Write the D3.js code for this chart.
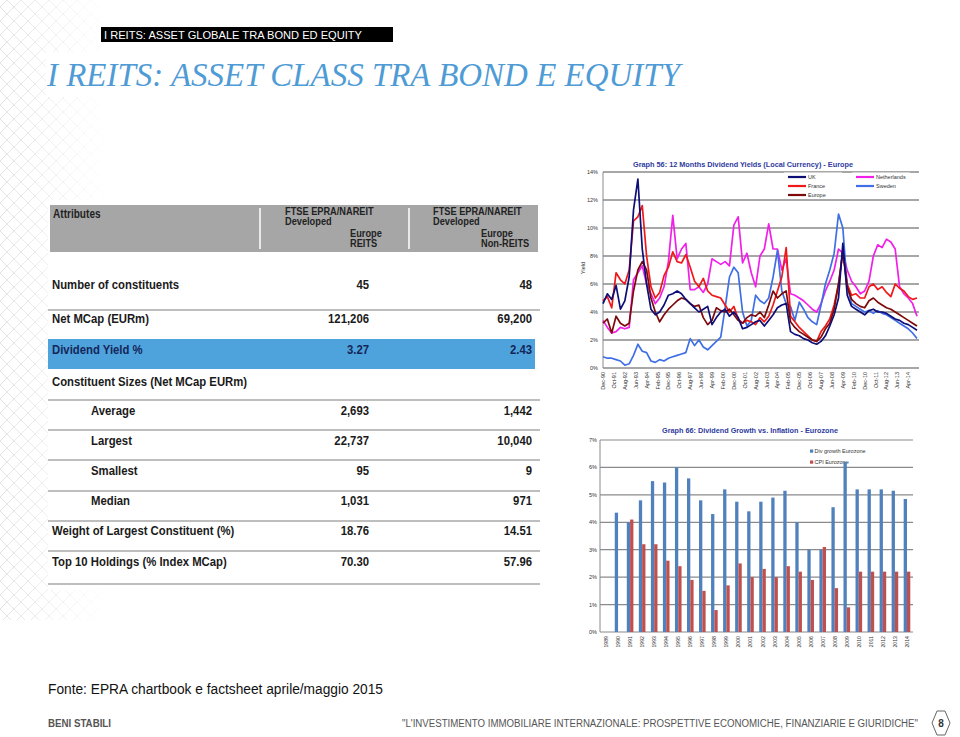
<!DOCTYPE html>
<html><head><meta charset="utf-8">
<script src="https://cdn.jsdelivr.net/npm/d3@7"></script>
<style>body{margin:0;background:#fff}svg{display:block}</style>
</head><body>
<svg id="c" width="960" height="737"></svg>
<script>
// ---------------- DATA ----------------
const headerTag = "I REITS: ASSET GLOBALE TRA BOND ED EQUITY";
const slideTitle = "I REITS: ASSET CLASS TRA BOND E EQUITY";

const tableHeaders = ["Attributes", ["FTSE EPRA/NAREIT","Developed","Europe","REITS"], ["FTSE EPRA/NAREIT","Developed","Europe","Non-REITS"]];
const rowLabels = ["Number of constituents","Net MCap (EURm)","Dividend Yield %","Constituent Sizes (Net MCap EURm)","Average","Largest","Smallest","Median","Weight of Largest Constituent (%)","Top 10 Holdings (% Index MCap)"];
const reitsValues = ["45","121,206","3.27","","2,693","22,737","95","1,031","18.76","70.30"];
const nonReitsValues = ["48","69,200","2.43","","1,442","10,040","9","971","14.51","57.96"];

const yieldTitle = "Graph 56: 12 Months Dividend Yields (Local Currency) - Europe";
const yieldTicks = [0,2,4,6,8,10,12,14];
const yieldXLabels = ["Dec-90","Oct-91","Aug-92","Jun-93","Apr-94","Feb-95","Dec-95","Oct-96","Aug-97","Jun-98","Apr-99","Feb-00","Dec-00","Oct-01","Aug-02","Jun-03","Apr-04","Feb-05","Dec-05","Oct-06","Aug-07","Jun-08","Apr-09","Feb-10","Dec-10","Oct-11","Aug-12","Jun-13","Apr-14"];
// one reading every 4 months from Dec-90 to Dec-14
const ukYield = [4.6,5.3,4.9,5.9,4.2,4.8,6.5,11.3,13.5,8.5,6.0,4.2,3.8,4.0,4.5,5.2,5.3,5.5,5.3,4.9,4.6,4.3,4.0,4.2,4.4,3.1,3.6,4.0,4.2,3.7,4.0,3.6,2.8,2.9,3.1,3.3,3.4,3.0,3.4,3.8,4.3,4.5,4.6,2.6,2.4,2.3,2.1,2.0,1.8,1.7,1.9,2.3,3.0,3.8,5.0,8.9,5.2,4.4,4.2,4.0,3.8,4.1,4.2,4.0,4.0,3.9,3.7,3.5,3.4,3.2,3.1,2.9,2.7];
const franceYield = [4.8,5.1,4.3,6.8,6.3,6.0,7.0,10.5,10.8,11.6,8.0,5.8,5.0,5.4,6.6,7.2,8.3,7.6,7.5,8.1,7.2,6.2,5.8,6.4,5.5,5.2,5.1,5.0,4.5,4.0,4.4,3.5,3.2,3.4,3.3,3.1,3.6,3.3,3.7,4.5,5.5,6.5,8.6,3.7,3.3,2.9,2.6,2.3,2.0,1.9,2.6,3.0,3.5,4.5,6.0,8.3,6.0,5.2,5.3,5.0,5.0,5.8,6.0,5.6,5.8,5.4,5.1,6.0,5.7,5.5,5.1,4.9,5.0];
const europeYield = [3.2,3.5,2.5,3.7,3.2,3.0,3.2,5.5,7.0,7.6,7.0,5.0,4.0,3.3,3.8,4.2,4.5,4.8,5.0,4.9,4.6,4.4,4.5,3.6,3.1,3.4,4.3,4.1,4.0,4.2,3.8,3.4,3.2,3.6,3.8,3.7,4.0,3.6,4.5,5.5,5.0,5.3,5.5,3.3,2.9,2.6,2.4,2.2,2.0,1.9,2.2,2.8,3.2,4.2,6.0,8.3,5.8,4.9,4.6,4.4,4.3,4.8,5.0,4.7,4.5,4.3,4.2,4.0,3.8,3.6,3.4,3.2,3.0];
const netherlandsYield = [3.4,2.9,2.5,2.6,2.9,2.8,2.9,6.3,6.8,7.3,6.0,5.3,4.6,5.0,5.8,7.6,10.9,7.8,8.5,8.9,5.6,5.6,5.8,5.4,6.0,7.8,7.6,7.4,7.6,7.3,10.2,10.8,7.5,8.2,6.8,5.8,8.0,8.5,10.3,8.5,8.5,7.0,7.8,5.3,5.2,5.0,4.8,4.5,4.2,4.0,4.6,5.5,6.2,7.0,8.5,8.2,7.0,6.2,5.8,5.3,5.5,6.2,8.0,8.8,8.6,9.2,9.0,8.5,5.8,5.3,5.0,4.6,3.7];
const swedenYield = [0.8,0.7,0.7,0.6,0.5,0.2,0.3,0.9,1.7,1.2,1.1,0.5,0.4,0.6,0.5,0.7,0.8,0.9,1.0,1.1,2.1,1.6,2.0,1.5,1.3,1.6,1.9,2.2,4.3,6.5,7.2,6.8,4.0,3.0,3.4,5.2,4.8,4.6,5.0,6.5,8.4,5.5,4.6,4.4,3.4,4.7,4.2,3.6,3.3,3.1,4.5,6.0,7.0,8.2,11.0,10.0,5.8,4.6,4.4,4.2,4.0,4.1,3.9,4.1,3.9,3.8,3.6,3.4,3.2,3.0,2.8,2.5,2.1];
const yieldSeriesNames = ["UK","France","Europe","Netherlands","Sweden"];

const barTitle = "Graph 66: Dividend Growth vs. Inflation - Eurozone";
const barYears = ["1989","1990","1991","1992","1993","1994","1995","1996","1997","1998","1999","2000","2001","2002","2003","2004","2005","2006","2007","2008","2009","2010","2011","2012","2013","2014"];
const divGrowth = [null,4.35,4.0,4.8,5.5,5.45,6.0,5.6,4.8,4.3,5.2,4.75,4.4,4.75,4.9,5.15,4.0,3.0,3.0,4.55,6.2,5.2,5.2,5.2,5.15,4.85];
const cpiEurozone = [null,null,4.1,3.2,3.2,2.6,2.4,1.9,1.5,0.8,1.7,2.5,2.0,2.3,2.0,2.4,2.2,1.9,3.1,1.6,0.9,2.2,2.2,2.2,2.2,2.2];
const barTicks = [0,1,2,3,4,5,6,7];
const barSeriesNames = ["Div growth Eurozone","CPI Eurozone"];

const sourceNote = "Fonte: EPRA chartbook e factsheet aprile/maggio 2015";
const footerLeft = "BENI STABILI";
const footerRight = "\"L'INVESTIMENTO IMMOBILIARE INTERNAZIONALE: PROSPETTIVE ECONOMICHE, FINANZIARIE E GIURIDICHE\"";
const pageNumber = "8";

// ---------------- DRAW ----------------
const svg = d3.select("#c");
const SANS = "'Liberation Sans', Arial, sans-serif";
const SX = 0.84; // horizontal condensing of table text (Arial Narrow look)

// background lattice (left edge)
const defs = svg.append("defs");
const pat = defs.append("pattern").attr("id","lat").attr("width",14).attr("height",14).attr("patternUnits","userSpaceOnUse");
pat.append("path").attr("d","M0,7 L7,0 L14,7 L7,14 Z").attr("fill","none").attr("stroke","#e3e3e3").attr("stroke-width",1);
const grad = defs.append("linearGradient").attr("id","fade").attr("x1",0).attr("x2",1).attr("y1",0).attr("y2",0);
grad.append("stop").attr("offset",0).attr("stop-color","#fff").attr("stop-opacity",1);
grad.append("stop").attr("offset",1).attr("stop-color","#fff").attr("stop-opacity",0);
defs.append("mask").attr("id","m").append("rect").attr("width",110).attr("height",620).attr("fill","url(#fade)");
svg.append("rect").attr("width",110).attr("height",620).attr("fill","url(#lat)").attr("mask","url(#m)");
svg.append("rect").attr("x",46).attr("y",52).attr("width",640).attr("height",45).attr("fill","#fff");
svg.append("rect").attr("x",48).attr("y",200).attr("width",495).attr("height",390).attr("fill","#fff");

// header tag
svg.append("rect").attr("x",101).attr("y",27).attr("width",292).attr("height",15).attr("fill","#000");
svg.append("text").attr("x",104).attr("y",38.5).attr("font-family",SANS).attr("font-size",11).attr("fill","#fff")
  .attr("textLength",258).attr("lengthAdjust","spacingAndGlyphs").text(headerTag);

// title
svg.append("text").attr("x",47).attr("y",86).attr("font-family","'Liberation Serif','Times New Roman',serif")
  .attr("font-style","italic").attr("font-size",34).attr("fill","#4f9bd5")
  .attr("textLength",633).attr("lengthAdjust","spacingAndGlyphs").text(slideTitle);

// ---- table ----
const tb = svg.append("g").attr("font-family",SANS).attr("font-weight","bold");
function tText(x, y, t, size, fill, anchor){
  tb.append("text").attr("transform",`translate(${x},${y}) scale(${SX},1)`)
    .attr("text-anchor",anchor||"start").attr("font-size",size).attr("fill",fill).text(t);
}
tb.append("rect").attr("x",50).attr("y",205).attr("width",488).attr("height",47).attr("fill","#a6a6a6");
[260,409].forEach(x=>tb.append("line").attr("x1",x).attr("x2",x).attr("y1",208).attr("y2",249).attr("stroke","#fff").attr("stroke-width",1.5));
tText(53,218,tableHeaders[0],12,"#222");
const hdrCols = [{x:285, x2:350},{x:433, x2:481}];
[1,2].forEach((c,ci)=>{
  const h = tableHeaders[c], p = hdrCols[ci];
  const ys=[214.5,224.5,237,247];
  h.forEach((t,i)=>tText(i<2?p.x:p.x2, ys[i], t, 11, "#222"));
});
tb.append("rect").attr("x",48).attr("y",339).attr("width",487).attr("height",30).attr("fill","#4ea3dc");
const rowY = [284,318,349,381,410,440,470,500,530,561];
const indent = [false,false,false,false,true,true,true,true,false,false];
[310,400,430,460,491,521,551,584].forEach(y=>tb.append("line").attr("x1",48).attr("x2",540).attr("y1",y).attr("y2",y).attr("stroke","#a8a8a8").attr("stroke-width",1.6));
rowLabels.forEach((lab,i)=>{
  const col = i===2 ? "#15265a" : "#1a1a1a";
  tText(indent[i]?91:52, rowY[i]+4.5, lab, 13.5, col);
  if (reitsValues[i]) tText(369, rowY[i]+4.5, reitsValues[i], 13.5, col, "end");
  if (nonReitsValues[i]) tText(532, rowY[i]+4.5, nonReitsValues[i], 13.5, col, "end");
});

// ---- line chart ----
const lc = svg.append("g").attr("font-family",SANS);
const t0 = new Date(1990,11,1);
const yieldDates = ukYield.map((_,i)=>d3.timeMonth.offset(t0, i*4));
const xL = d3.scaleTime().domain([t0, new Date(2014,11,1)]).range([603,917]);
const yL = d3.scaleLinear().domain([0,14]).range([368,172]);
yieldTicks.forEach(v=>{
  lc.append("line").attr("x1",603).attr("x2",919).attr("y1",yL(v)).attr("y2",yL(v)).attr("stroke","#8a8a8a").attr("stroke-width",1.4);
  lc.append("text").attr("x",598).attr("y",yL(v)+2).attr("text-anchor","end").attr("font-size",5.5).attr("fill","#333").text(v+"%");
});
lc.append("line").attr("x1",603).attr("x2",603).attr("y1",172).attr("y2",368).attr("stroke","#8a8a8a").attr("stroke-width",1);
const parseLbl = d3.timeParse("%b-%y");
yieldXLabels.forEach(l=>{
  const x = xL(parseLbl(l));
  lc.append("text").attr("transform",`translate(${x+2},372) rotate(-90)`).attr("text-anchor","end").attr("font-size",5.5).attr("fill","#333").text(l);
});
lc.append("text").attr("transform","translate(585,268) rotate(-90)").attr("text-anchor","middle").attr("font-size",5.5).attr("fill","#333").text("Yield");
lc.append("text").attr("x",743).attr("y",166.5).attr("text-anchor","middle").attr("font-size",7).attr("font-weight","bold").attr("fill","#2e3a9e")
  .attr("textLength",220).attr("lengthAdjust","spacingAndGlyphs").text(yieldTitle);
const seriesData = {UK:ukYield, France:franceYield, Europe:europeYield, Netherlands:netherlandsYield, Sweden:swedenYield};
const seriesColor = {UK:"#0d0d78", France:"#f01818", Europe:"#7d0a0a", Netherlands:"#f020e8", Sweden:"#3f6fe6"};
const line = d3.line().x((d,i)=>xL(yieldDates[i])).y(d=>yL(d));
["Netherlands","Sweden","France","Europe","UK"].forEach(n=>{
  lc.append("path").attr("d",line(seriesData[n])).attr("fill","none").attr("stroke",seriesColor[n]).attr("stroke-width",1.7).attr("stroke-linejoin","round");
});
const legPos = {UK:[788,177],France:[788,186],Europe:[788,195],Netherlands:[856,177],Sweden:[856,186]};
yieldSeriesNames.forEach(n=>{
  const [x,y]=legPos[n];
  lc.append("rect").attr("x",x-4).attr("y",y-4.5).attr("width",58).attr("height",8.5).attr("fill","#fff");
  lc.append("line").attr("x1",x).attr("x2",x+18).attr("y1",y).attr("y2",y).attr("stroke",seriesColor[n]).attr("stroke-width",2.2);
  lc.append("text").attr("x",x+20).attr("y",y+2).attr("font-size",5.5).attr("fill","#333").text(n);
});

// ---- bar chart ----
const bc = svg.append("g").attr("font-family",SANS);
const xB = d3.scaleBand().domain(barYears).range([600,913]);
const yB = d3.scaleLinear().domain([0,7]).range([632,440]);
const bw = 3.3;
barTicks.forEach(v=>{
  bc.append("line").attr("x1",600).attr("x2",913).attr("y1",yB(v)).attr("y2",yB(v)).attr("stroke","#8a8a8a").attr("stroke-width",1.2);
  bc.append("text").attr("x",597).attr("y",yB(v)+2).attr("text-anchor","end").attr("font-size",5.5).attr("fill","#333").text(v+"%");
});
bc.append("line").attr("x1",600).attr("x2",600).attr("y1",440).attr("y2",632).attr("stroke","#8a8a8a").attr("stroke-width",1);
bc.append("text").attr("x",750).attr("y",433).attr("text-anchor","middle").attr("font-size",7).attr("font-weight","bold").attr("fill","#2e3a9e")
  .attr("textLength",176).attr("lengthAdjust","spacingAndGlyphs").text(barTitle);
const barColors = ["#4f81bd","#c0504d"];
const legB = [[810,451],[810,462]];
barSeriesNames.forEach((n,i)=>{
  const [x,y]=legB[i];
  bc.append("rect").attr("x",x).attr("y",y-1.5).attr("width",3.2).attr("height",3.2).attr("fill",barColors[i]);
  bc.append("text").attr("x",x+4.5).attr("y",y+1.8).attr("font-size",5.5).attr("fill","#333").text(n);
});
barYears.forEach((yr,i)=>{
  const c = xB(yr)+xB.bandwidth()/2;
  if (divGrowth[i]!=null) bc.append("rect").attr("x",c-bw).attr("y",yB(divGrowth[i])).attr("width",bw).attr("height",yB(0)-yB(divGrowth[i])).attr("fill",barColors[0]);
  if (cpiEurozone[i]!=null) bc.append("rect").attr("x",c).attr("y",yB(cpiEurozone[i])).attr("width",bw).attr("height",yB(0)-yB(cpiEurozone[i])).attr("fill",barColors[1]);
  bc.append("text").attr("transform",`translate(${c+2},636) rotate(-90)`).attr("text-anchor","end").attr("font-size",5.2).attr("fill","#333").text(yr);
});

// ---- footer ----
svg.append("text").attr("x",48).attr("y",694).attr("font-family",SANS).attr("font-size",14).attr("fill","#111")
  .attr("textLength",335).attr("lengthAdjust","spacingAndGlyphs").text(sourceNote);
svg.append("text").attr("x",48).attr("y",727).attr("font-family",SANS).attr("font-weight","bold").attr("font-size",10).attr("fill","#555")
  .attr("textLength",63).attr("lengthAdjust","spacingAndGlyphs").text(footerLeft);
svg.append("text").attr("x",402).attr("y",727).attr("font-family",SANS).attr("font-size",10).attr("fill","#555")
  .attr("textLength",516).attr("lengthAdjust","spacingAndGlyphs").text(footerRight);
svg.append("path").attr("d","M937,711 L932,723 L937,735 M945,711 L950,723 L945,735 M937,711 L945,711 M937,735 L945,735").attr("fill","none").attr("stroke","#666").attr("stroke-width",1);
svg.append("text").attr("x",941).attr("y",727).attr("text-anchor","middle").attr("font-family",SANS).attr("font-weight","bold").attr("font-size",10).attr("fill","#333").text(pageNumber);
</script>
</body></html>
